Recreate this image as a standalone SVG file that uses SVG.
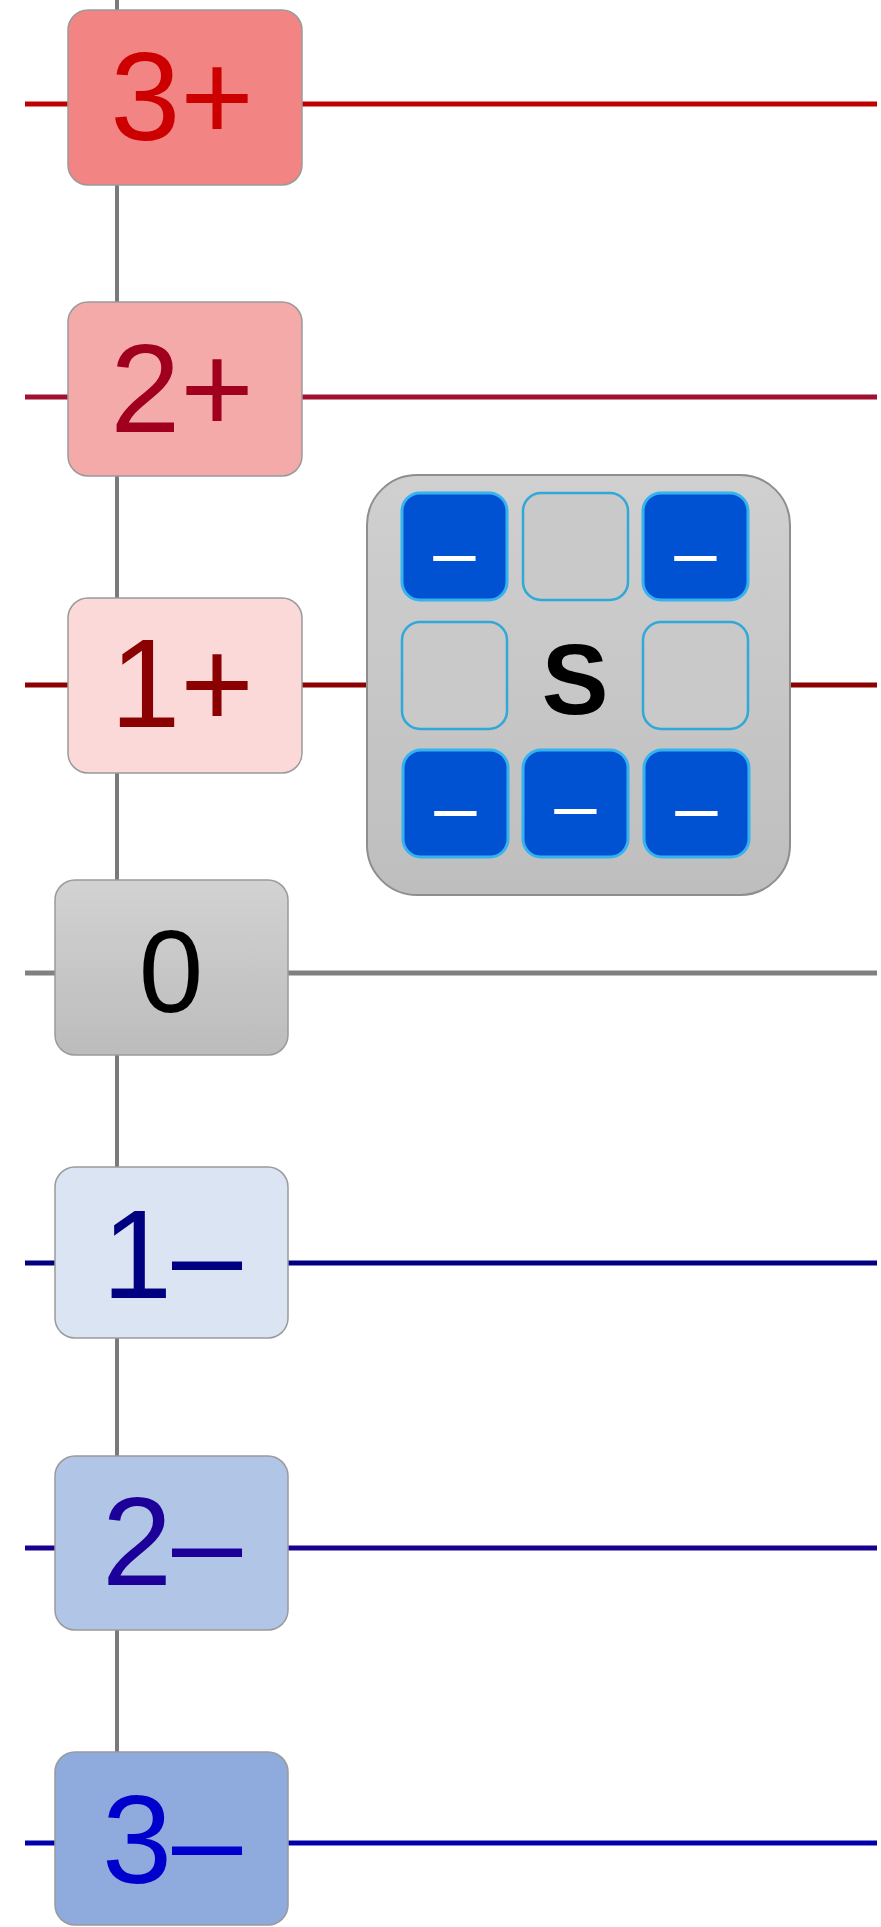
<svg xmlns="http://www.w3.org/2000/svg" width="881" height="1927" viewBox="0 0 881 1927">
<defs>
<linearGradient id="g0" x1="0" y1="0" x2="0" y2="1"><stop offset="0" stop-color="#d2d2d2"/><stop offset="1" stop-color="#bcbcbc"/></linearGradient>
<linearGradient id="gs" x1="0" y1="0" x2="0" y2="1"><stop offset="0" stop-color="#d0d0d0"/><stop offset="1" stop-color="#bebebe"/></linearGradient>
</defs>
<style>
.lvl{stroke:#9a9a9a;stroke-width:1.5}
.lbl{font-family:"Liberation Sans",Arial,sans-serif;font-size:126px;text-anchor:middle}
.h{stroke-width:5;fill:none}
.full{fill:#0052d2;stroke:#35b2f0;stroke-width:3}
.empty{fill:#c9c9c9;stroke:#30a8d8;stroke-width:2.5}
.m{font-family:"Liberation Sans",Arial,sans-serif;font-size:76px;fill:#ffffff;text-anchor:middle}
</style>
<rect width="881" height="1927" fill="#ffffff"/>
<g id="connectors">
<line x1="117" y1="0" x2="117" y2="1752" stroke="#7a7a7a" stroke-width="4"/>
<line class="h" x1="25" y1="104" x2="877" y2="104" stroke="#c00000"/>
<line class="h" x1="25" y1="397" x2="877" y2="397" stroke="#a01030"/>
<line class="h" x1="25" y1="685" x2="877" y2="685" stroke="#8b0000"/>
<line class="h" x1="25" y1="973" x2="877" y2="973" stroke="#808080"/>
<line class="h" x1="25" y1="1263" x2="877" y2="1263" stroke="#000080"/>
<line class="h" x1="25" y1="1548" x2="877" y2="1548" stroke="#1a0090"/>
<line class="h" x1="25" y1="1843" x2="877" y2="1843" stroke="#0000aa"/>
</g>
<g id="n3p"><rect class="lvl" x="68" y="10" width="234" height="175" rx="20" fill="#f28484"/><text class="lbl" x="182" y="140" fill="#cc0000">3+</text></g>
<g id="n2p"><rect class="lvl" x="68" y="302" width="234" height="174" rx="20" fill="#f5aaaa"/><text class="lbl" x="182" y="432" fill="#a0001e">2+</text></g>
<g id="n1p"><rect class="lvl" x="68" y="598" width="234" height="175" rx="20" fill="#fbd9d9"/><text class="lbl" x="182" y="727" fill="#8b0000">1+</text></g>
<g id="n0"><rect class="lvl" x="55" y="880" width="233" height="175" rx="20" fill="url(#g0)"/><text class="lbl" x="171" y="1012" fill="#000000" style="font-size:116px">0</text></g>
<g id="n1m"><rect class="lvl" x="55" y="1167" width="233" height="171" rx="20" fill="#dbe4f3"/><text class="lbl" x="172" y="1298" fill="#000080">1–</text></g>
<g id="n2m"><rect class="lvl" x="55" y="1456" width="233" height="174" rx="20" fill="#b1c5e6"/><text class="lbl" x="172" y="1585" fill="#1c0099">2–</text></g>
<g id="n3m"><rect class="lvl" x="55" y="1752" width="233" height="173" rx="20" fill="#8faadc"/><text class="lbl" x="172" y="1883" fill="#0000cc">3–</text></g>
<g id="s">
<rect x="367" y="475" width="423" height="420" rx="50" fill="url(#gs)" stroke="#8e8e8e" stroke-width="2"/>
<rect class="full" x="402" y="493" width="105" height="107" rx="18"/>
<rect class="empty" x="523" y="493" width="105" height="107" rx="18"/>
<rect class="full" x="643" y="493" width="105" height="107" rx="18"/>
<rect class="empty" x="402" y="622" width="105" height="107" rx="18"/>
<rect class="empty" x="643" y="622" width="105" height="107" rx="18"/>
<rect class="full" x="403" y="750" width="105" height="107" rx="18"/>
<rect class="full" x="523" y="750" width="105" height="107" rx="18"/>
<rect class="full" x="644" y="750" width="105" height="107" rx="18"/>
<text class="m" x="454.5" y="578">–</text>
<text class="m" x="695.5" y="578">–</text>
<text class="m" x="455.5" y="833">–</text>
<text class="m" x="575.5" y="831">–</text>
<text class="m" x="696.5" y="833">–</text>
<text x="575" y="714" font-family="Liberation Sans, Arial, sans-serif" font-size="100" font-weight="bold" fill="#000000" text-anchor="middle">S</text>
</g>
</svg>
